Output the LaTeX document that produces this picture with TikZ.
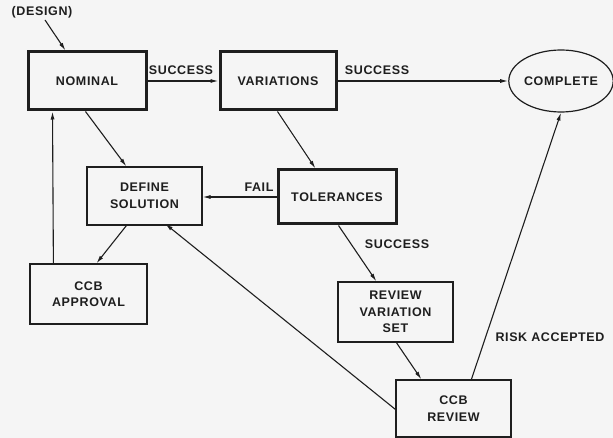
\documentclass[tikz,border=0pt]{standalone}
\usepackage{fontspec}
\setmainfont{Liberation Sans}[LetterSpace=5]
\usetikzlibrary{shapes.geometric,arrows.meta,calc}
\definecolor{bg}{RGB}{245,245,245}
\definecolor{ink}{RGB}{30,30,30}
\begin{document}
\begin{tikzpicture}[x=1pt,y=-1pt,
  every node/.style={font=\bfseries\fontsize{12.5}{16.5}\selectfont, text=ink, align=center},
  thinbox/.style={draw=ink, line width=1.2pt, rectangle, inner sep=0pt},
  thickbox/.style={draw=ink, line width=3pt, rectangle, inner sep=0pt},
  arr/.style={draw=ink, line width=1.1pt, -{Latex[length=8pt,width=4pt]}},
  lbl/.style={inner sep=0pt}]
\fill[bg] (0,0) rectangle (613,438);
\useasboundingbox (0,0) rectangle (613,438);

\node[thickbox, minimum width=118, minimum height=58] (nom) at (87,81) {NOMINAL};
\node[thickbox, minimum width=116, minimum height=58] (var) at (278,81) {VARIATIONS};
\node[draw=ink, line width=1.2pt, ellipse, minimum width=104, minimum height=62, inner sep=0pt] (comp) at (561,81) {COMPLETE};
\node[thinbox, minimum width=115, minimum height=58] (def) at (144.5,196) {DEFINE\\SOLUTION};
\node[thickbox, minimum width=118, minimum height=54] (tol) at (337,197) {TOLERANCES};
\node[thinbox, minimum width=117, minimum height=60] (app) at (88.5,294) {CCB\\APPROVAL};
\node[thinbox, minimum width=115, minimum height=60] (rev) at (395.5,312) {REVIEW\\VARIATION\\SET};
\node[thinbox, minimum width=115, minimum height=57] (ccb) at (453.5,408.5) {CCB\\REVIEW};

\node[lbl] (design) at (42,12) {(DESIGN)};
\node[lbl] (s1) at (181,70) {SUCCESS};
\node[lbl] (s2) at (377,70) {SUCCESS};
\node[lbl] (fail) at (259,187) {FAIL};
\node[lbl] (s3) at (397,244) {SUCCESS};
\node[lbl] (risk) at (550,337) {RISK ACCEPTED};

\coordinate (dstart) at (45,20);
\draw[arr] (dstart) -- ($(nom.north west)+(39,0)$);
\draw[arr] (nom.east) -- (var.west);
\draw[arr] (var.east) -- (comp.west);
\draw[arr] ($(nom.south west)+(59,0)$) -- ($(def.north west)+(40,0)$);
\draw[arr] ($(var.south west)+(59,0)$) -- ($(tol.north west)+(39,0)$);
\draw[arr] (tol.west) -- (tol.west -| def.east);
\draw[arr] ($(def.south west)+(40,0)$) -- ($(app.north west)+(67,0)$);
\draw[arr] ($(app.north west)+(24,0)$) -- ($(nom.south west)+(26,0)$);
\draw[arr] ($(tol.south west)+(62,0)$) -- ($(rev.north west)+(39,0)$);
\draw[arr] ($(rev.south west)+(59,0)$) -- ($(ccb.north west)+(26,0)$);
\draw[arr] ($(ccb.north west)+(76,0)$) -- (comp.south);
\draw[arr, shorten >=-3pt] ($(ccb.north west)+(0,30)$) -- ($(def.south west)+(81,0)$);
\end{tikzpicture}
\end{document}
